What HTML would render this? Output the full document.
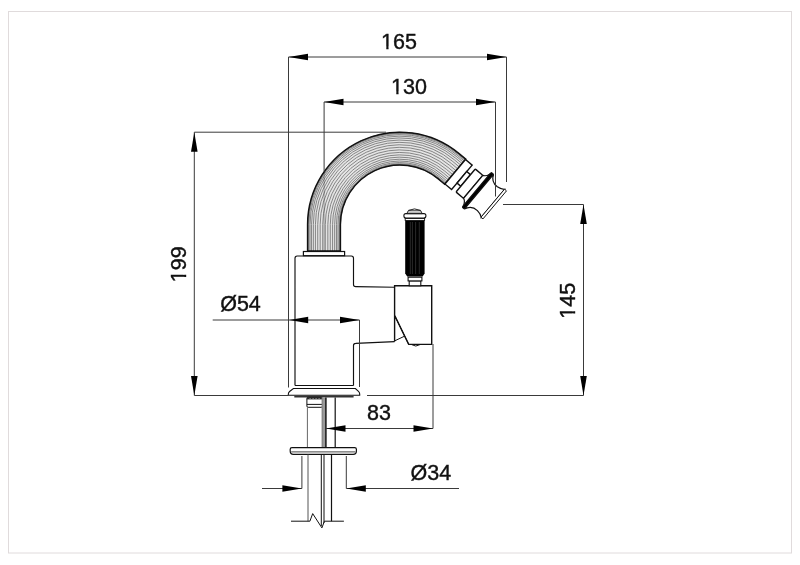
<!DOCTYPE html>
<html><head><meta charset="utf-8"><style>
html,body{margin:0;padding:0;background:#fff;}
svg{display:block;font-family:"Liberation Sans",sans-serif;will-change:transform;}
</style></head><body>
<svg width="800" height="565" viewBox="0 0 800 565">
<rect width="800" height="565" fill="#fff"/>
<g fill="#111">
<rect x="8.5" y="11.5" width="783" height="541.5" fill="none" stroke="#e0dbdc" stroke-width="1"/>
<path d="M307.6,251 V224.6 A92.4,92.4 0 0 1 459.39,153.82 L465.75,159.15 L444.67,184.28 L438.31,178.94 A59.6,59.6 0 0 0 340.4,224.6 V251Z" fill="#e4e4e4" stroke="none"/>
<path d="M307.65,251 V224.6 A92.35,92.35 0 0 1 459.36,153.86 L465.72,159.19" fill="none" stroke="#808080" stroke-width="0.95"/>
<path d="M308.05,251 V224.6 A91.95,91.95 0 0 1 459.10,154.16 L465.46,159.50" fill="none" stroke="#808080" stroke-width="0.95"/>
<path d="M308.85,251 V224.6 A91.15,91.15 0 0 1 458.59,154.77 L464.95,160.11" fill="none" stroke="#808080" stroke-width="0.95"/>
<path d="M310.02,251 V224.6 A89.98,89.98 0 0 1 457.84,155.67 L464.20,161.00" fill="none" stroke="#808080" stroke-width="0.95"/>
<path d="M311.53,251 V224.6 A88.47,88.47 0 0 1 456.87,156.83 L463.23,162.16" fill="none" stroke="#808080" stroke-width="0.95"/>
<path d="M313.35,251 V224.6 A86.65,86.65 0 0 1 455.70,158.22 L462.06,163.56" fill="none" stroke="#808080" stroke-width="0.95"/>
<path d="M315.43,251 V224.6 A84.57,84.57 0 0 1 454.36,159.82 L460.72,165.15" fill="none" stroke="#808080" stroke-width="0.95"/>
<path d="M317.72,251 V224.6 A82.28,82.28 0 0 1 452.89,161.57 L459.24,166.91" fill="none" stroke="#808080" stroke-width="0.95"/>
<path d="M320.17,251 V224.6 A79.83,79.83 0 0 1 451.31,163.45 L457.67,168.78" fill="none" stroke="#808080" stroke-width="0.95"/>
<path d="M322.71,251 V224.6 A77.29,77.29 0 0 1 449.68,165.39 L456.04,170.73" fill="none" stroke="#808080" stroke-width="0.95"/>
<path d="M325.29,251 V224.6 A74.71,74.71 0 0 1 448.02,167.37 L454.38,172.70" fill="none" stroke="#808080" stroke-width="0.95"/>
<path d="M327.83,251 V224.6 A72.17,72.17 0 0 1 446.39,169.31 L452.75,174.65" fill="none" stroke="#808080" stroke-width="0.95"/>
<path d="M330.28,251 V224.6 A69.72,69.72 0 0 1 444.82,171.19 L451.18,176.52" fill="none" stroke="#808080" stroke-width="0.95"/>
<path d="M332.57,251 V224.6 A67.43,67.43 0 0 1 443.34,172.94 L449.70,178.28" fill="none" stroke="#808080" stroke-width="0.95"/>
<path d="M334.65,251 V224.6 A65.35,65.35 0 0 1 442.01,174.54 L448.36,179.87" fill="none" stroke="#808080" stroke-width="0.95"/>
<path d="M336.47,251 V224.6 A63.53,63.53 0 0 1 440.84,175.93 L447.19,181.27" fill="none" stroke="#808080" stroke-width="0.95"/>
<path d="M337.98,251 V224.6 A62.02,62.02 0 0 1 439.86,177.09 L446.22,182.43" fill="none" stroke="#808080" stroke-width="0.95"/>
<path d="M339.15,251 V224.6 A60.85,60.85 0 0 1 439.11,177.99 L445.47,183.32" fill="none" stroke="#808080" stroke-width="0.95"/>
<path d="M339.95,251 V224.6 A60.05,60.05 0 0 1 438.60,178.60 L444.96,183.93" fill="none" stroke="#808080" stroke-width="0.95"/>
<path d="M340.35,251 V224.6 A59.65,59.65 0 0 1 438.34,178.91 L444.70,184.24" fill="none" stroke="#808080" stroke-width="0.95"/>
<path d="M307.6,251 V224.6 A92.4,92.4 0 0 1 459.39,153.82 L465.75,159.15 L444.67,184.28 L438.31,178.94 A59.6,59.6 0 0 0 340.4,224.6 V251Z" fill="none" stroke="#111" stroke-width="1.5"/>
<line x1="324.1" y1="171.6" x2="324.1" y2="251" stroke="#000" stroke-opacity="0.3" stroke-width="1"/>
<rect x="303.4" y="251.5" width="41.2" height="4.2" fill="#fff" stroke="#111" stroke-width="1.2"/>
<path d="M295,385.5 V258.2 Q295,256 297.2,256 H351.3 Q353.5,256 353.5,258.2 V284.4 Q353.5,286.6 355.7,286.6 L394.6,287.3 M394.6,341.6 L355.7,343.4 Q353.5,343.4 353.5,345.6 V385.5" fill="none" stroke="#111" stroke-width="1.15"/>
<path d="M394.6,341.6 V285.8 H431.7 V344.4 H408.7 L394.6,315.4" fill="#fff" stroke="#111" stroke-width="1.4"/>
<path d="M394.6,315.4 L408.7,344.4 M394.6,340.9 L404.5,336.2" fill="none" stroke="#111" stroke-width="1"/>
<path d="M411.6,344.6 Q415.8,347.5 420,344.6" fill="none" stroke="#111" stroke-width="1"/>
<rect x="409.2" y="280.9" width="11.6" height="4.9" fill="#fff" stroke="#111" stroke-width="1.1"/>
<rect x="408.1" y="277.2" width="13.8" height="3.7" fill="#fff" stroke="#111" stroke-width="1.1"/>
<path d="M405.2,220.4 H424.6 V273.5 L422.6,276.6 H407.2 L405.2,273.5Z" fill="#000"/>
<line x1="410.3" y1="222" x2="410.3" y2="274" stroke="#333" stroke-width="0.8"/>
<line x1="412.4" y1="222" x2="412.4" y2="274" stroke="#333" stroke-width="0.8"/>
<line x1="415.6" y1="222" x2="415.6" y2="274" stroke="#333" stroke-width="0.8"/>
<line x1="419.3" y1="222" x2="419.3" y2="274" stroke="#333" stroke-width="0.8"/>
<rect x="405.2" y="218.3" width="19.4" height="2.2" fill="#fff" stroke="#111" stroke-width="0.9"/>
<rect x="403.9" y="213.6" width="22" height="4.5" rx="2" fill="#fff" stroke="#111" stroke-width="1.1"/>
<path d="M406.8,213.6 L408.5,210.4 Q414.5,207.4 420.5,210.4 L422.2,213.6Z" fill="#fff" stroke="#111" stroke-width="0.9"/>
<line x1="408.5" y1="210.4" x2="420.5" y2="210.4" stroke="#111" stroke-width="0.7"/>
<line x1="407.5" y1="212.1" x2="421.5" y2="212.1" stroke="#333" stroke-width="0.6"/>
<path d="M295,385.5 H353.5 M293.6,388.5 H355.3" fill="none" stroke="#111" stroke-width="1.1"/>
<path d="M293.4,388.5 H355.4 L358.5,391.3 Q359.7,392.4 359.7,394 V395.3 H288.3 V394.2 Q288.3,392.6 289.6,391.5 Z" fill="#fff" stroke="#111" stroke-width="1.1"/>
<line x1="294.3" y1="396.6" x2="353.6" y2="396.6" stroke="#333" stroke-width="1.6"/>
<rect x="306.9" y="397.4" width="15.6" height="9.9" rx="1.2" fill="#fff" stroke="#111" stroke-width="1"/>
<rect x="306.9" y="397.4" width="15.6" height="2.0" fill="#2a2a2a"/>
<rect x="309.5" y="398.0" width="1.2" height="0.9" fill="#999"/>
<rect x="312.5" y="398.0" width="1.2" height="0.9" fill="#999"/>
<rect x="315.5" y="398.0" width="1.2" height="0.9" fill="#999"/>
<rect x="318.5" y="398.0" width="1.2" height="0.9" fill="#999"/>
<line x1="306.9" y1="404.4" x2="322.5" y2="404.4" stroke="#111" stroke-width="1"/>
<line x1="307.4" y1="407.3" x2="307.4" y2="447.5" stroke="#666" stroke-width="1"/>
<rect x="322" y="397.4" width="4.3" height="50.1" fill="#9a9a9a"/>
<line x1="322.1" y1="397.4" x2="322.1" y2="447.5" stroke="#777" stroke-width="0.9"/>
<line x1="325.9" y1="397.4" x2="325.9" y2="447.5" stroke="#111" stroke-width="1.4"/>
<line x1="335.2" y1="397.5" x2="335.2" y2="447.5" stroke="#111" stroke-width="1.2"/>
<path d="M290.2,449.2 Q290.2,447.6 292,447.6 H354.6 Q356.4,447.6 356.4,449.2 V451.3 Q356.4,454.3 353.2,454.3 H293.4 Q290.2,454.3 290.2,451.3Z" fill="#fff" stroke="#111" stroke-width="1.2"/>
<line x1="291.2" y1="451.9" x2="355.4" y2="451.9" stroke="#444" stroke-width="1.0"/>
<line x1="308" y1="454.5" x2="308" y2="521.2" stroke="#555" stroke-width="1"/>
<line x1="321.3" y1="454.5" x2="321.3" y2="526" stroke="#111" stroke-width="1"/>
<line x1="324" y1="454.5" x2="324" y2="523" stroke="#111" stroke-width="1"/>
<line x1="331.5" y1="454.5" x2="331.5" y2="521.2" stroke="#111" stroke-width="1.2"/>
<path d="M291,521.2 H309.9 L312.7,513.6 L321.9,527.9 L324.4,521.2 H343.9" fill="none" stroke="#111" stroke-width="1"/>
<g transform="translate(455.21,171.72) rotate(40)" stroke="#111" fill="#fff" stroke-width="1.2">
<rect x="0" y="-16" width="8.7" height="32" stroke-width="1.4"/>
<rect x="8.7" y="-7.5" width="4.9" height="15" stroke-width="1.5"/>
<rect x="13.6" y="-15" width="9.9" height="30" rx="1" stroke-width="1.4"/>
<path d="M23.5,-15 Q27,-16 29,-22.7 L29,22.7 Q27,16 23.5,15Z"/>
<rect x="28.0" y="-22.7" width="3.3" height="45.4" rx="1.4" fill="#000"/>
<path d="M31,-22.7 Q34,-15 42,-15.5 Q47,-16 49.3,-18.3 L49.3,18.3 Q47,16 42,15.5 Q34,15 31,22.7Z"/>
<rect x="49.0" y="-18.3" width="2.6" height="36.6" stroke-width="0.9"/>
</g>
<line x1="288.5" y1="57" x2="506.5" y2="57" stroke="#3a3a3a" stroke-width="1"/>
<path d="M288.5,57 L308.00,53.70 L308.00,60.30Z" fill="#000"/>
<path d="M506.5,57 L487.00,60.30 L487.00,53.70Z" fill="#000"/>
<line x1="288.5" y1="57" x2="288.5" y2="387.5" stroke="#3a3a3a" stroke-width="1"/>
<line x1="506.5" y1="57" x2="506.5" y2="182" stroke="#3a3a3a" stroke-width="1"/>
<g transform="translate(399,49)">
<text x="-17.936" y="0" font-size="21.5" stroke="#111" stroke-width="0.4">165</text>
<rect x="-17.201" y="-2.415" width="4.483" height="4.094" fill="#fff"/>
<rect x="-10.440" y="-2.415" width="4.367" height="4.094" fill="#fff"/>
</g>
<line x1="324" y1="102" x2="495.5" y2="102" stroke="#3a3a3a" stroke-width="1"/>
<path d="M324,102 L343.50,98.70 L343.50,105.30Z" fill="#000"/>
<path d="M495.5,102 L476.00,105.30 L476.00,98.70Z" fill="#000"/>
<line x1="324.1" y1="102" x2="324.1" y2="171.6" stroke="#3a3a3a" stroke-width="1"/>
<line x1="495.5" y1="102" x2="495.5" y2="196.5" stroke="#3a3a3a" stroke-width="1"/>
<g transform="translate(409,94)">
<text x="-17.936" y="0" font-size="21.5" stroke="#111" stroke-width="0.4">130</text>
<rect x="-17.201" y="-2.415" width="4.483" height="4.094" fill="#fff"/>
<rect x="-10.440" y="-2.415" width="4.367" height="4.094" fill="#fff"/>
</g>
<line x1="194.3" y1="132.2" x2="194.3" y2="395.5" stroke="#3a3a3a" stroke-width="1"/>
<path d="M194.3,132.2 L197.60,151.70 L191.00,151.70Z" fill="#000"/>
<path d="M194.3,395.5 L191.00,376.00 L197.60,376.00Z" fill="#000"/>
<line x1="194.3" y1="132.2" x2="386" y2="132.2" stroke="#3a3a3a" stroke-width="1"/>
<line x1="194.3" y1="395.5" x2="288.5" y2="395.5" stroke="#3a3a3a" stroke-width="1"/>
<line x1="367" y1="395.5" x2="583.5" y2="395.5" stroke="#3a3a3a" stroke-width="1"/>
<g transform="translate(186.0,264.3) rotate(-90)">
<text x="-17.936" y="0" font-size="21.5" stroke="#111" stroke-width="0.4">199</text>
<rect x="-17.201" y="-2.415" width="4.483" height="4.094" fill="#fff"/>
<rect x="-10.440" y="-2.415" width="4.367" height="4.094" fill="#fff"/>
</g>
<line x1="583.5" y1="204.5" x2="583.5" y2="395.5" stroke="#3a3a3a" stroke-width="1"/>
<path d="M583.5,204.5 L586.80,224.00 L580.20,224.00Z" fill="#000"/>
<path d="M583.5,395.5 L580.20,376.00 L586.80,376.00Z" fill="#000"/>
<line x1="503" y1="204.5" x2="583.5" y2="204.5" stroke="#3a3a3a" stroke-width="1"/>
<g transform="translate(574.9,300.8) rotate(-90)">
<text x="-17.936" y="0" font-size="21.5" stroke="#111" stroke-width="0.4">145</text>
<rect x="-17.201" y="-2.415" width="4.483" height="4.094" fill="#fff"/>
<rect x="-10.440" y="-2.415" width="4.367" height="4.094" fill="#fff"/>
</g>
<line x1="212.7" y1="320" x2="359.5" y2="320" stroke="#3a3a3a" stroke-width="1"/>
<path d="M289.3,320 L308.20,316.70 L308.20,323.30Z" fill="#000"/>
<path d="M359.5,320 L340.00,323.30 L340.00,316.70Z" fill="#000"/>
<line x1="359.5" y1="320" x2="359.5" y2="387" stroke="#3a3a3a" stroke-width="1"/>
<g transform="translate(240.5,310.9)">
<text x="-20.319" y="0" font-size="21.5" stroke="#111" stroke-width="0.4">Ø54</text>
</g>
<line x1="326" y1="428.5" x2="433" y2="428.5" stroke="#3a3a3a" stroke-width="1"/>
<path d="M326,428.5 L345.50,425.20 L345.50,431.80Z" fill="#000"/>
<path d="M433,428.5 L413.50,431.80 L413.50,425.20Z" fill="#000"/>
<line x1="433" y1="344" x2="433" y2="428.5" stroke="#3a3a3a" stroke-width="1"/>
<g transform="translate(379,419.5)">
<text x="-11.957" y="0" font-size="21.5" stroke="#111" stroke-width="0.4">83</text>
</g>
<line x1="262" y1="488.5" x2="301.9" y2="488.5" stroke="#3a3a3a" stroke-width="1"/>
<path d="M301.9,488.5 L282.40,491.80 L282.40,485.20Z" fill="#000"/>
<line x1="346.3" y1="488.5" x2="459" y2="488.5" stroke="#3a3a3a" stroke-width="1"/>
<path d="M346.3,488.5 L365.80,485.20 L365.80,491.80Z" fill="#000"/>
<line x1="301.9" y1="456" x2="301.9" y2="488.5" stroke="#3a3a3a" stroke-width="1"/>
<line x1="346.3" y1="456" x2="346.3" y2="488.5" stroke="#3a3a3a" stroke-width="1"/>
<g transform="translate(430.8,479.6)">
<text x="-20.319" y="0" font-size="21.5" stroke="#111" stroke-width="0.4">Ø34</text>
</g>
</g>
</svg></body></html>
